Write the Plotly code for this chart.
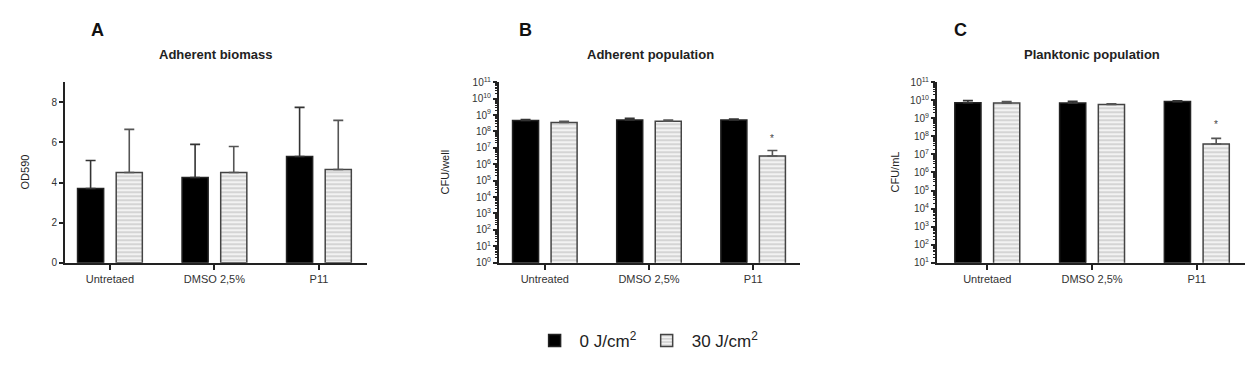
import numpy as np
import plotly.graph_objects as go
from plotly.subplots import make_subplots

# ---- data ----
cats_A = ["Untretaed", "DMSO 2,5%", "P11"]
cats_B = ["Untreated", "DMSO 2,5%", "P11"]
cats_C = ["Untretaed", "DMSO 2,5%", "P11"]
series_names = ["0 J/cm<sup>2</sup>", "30 J/cm<sup>2</sup>"]

A_0J = [3.7, 4.25, 5.3]
A_0J_err = [1.4, 1.65, 2.45]
A_30J = [4.5, 4.5, 4.65]
A_30J_err = [2.15, 1.3, 2.45]

B_0J = [4.7e8, 5.0e8, 5.0e8]
B_0J_err = [0.6e8, 1.3e8, 0.8e8]
B_30J = [3.5e8, 4.2e8, 3.2e6]
B_30J_err = [0.7e8, 0.8e8, 3.8e6]

C_0J = [7.3e9, 7.0e9, 8.5e9]
C_0J_err = [2.3e9, 1.8e9, 1.0e9]
C_30J = [7.0e9, 5.9e9, 3.8e7]
C_30J_err = [1.6e9, 0.5e9, 4.0e7]

sig_B = [False, False, True]
sig_C = [False, False, True]

B_ticks = list(range(0, 12))
C_ticks = list(range(1, 12))
A_ticks = [0, 2, 4, 6, 8]

FONT = "Liberation Sans, Arial, sans-serif"
W, H = 1258, 371

fig = make_subplots(rows=1, cols=3)

outline = "#222222"
bar_w = 0.25

def add_pair(col, cats, v0, e0, v1, e1, show):
    fig.add_trace(go.Bar(
        x=cats, y=v0, name=series_names[0], showlegend=show, legendgroup="a",
        width=bar_w, offset=-0.31,
        marker=dict(color="#000000", line=dict(color=outline, width=1.5)),
        error_y=dict(type="data", symmetric=False, array=e0, arrayminus=[0]*len(e0),
                     color="#333333", thickness=1.6, width=5),
    ), row=1, col=col)
    fig.add_trace(go.Bar(
        x=cats, y=v1, name=series_names[1], showlegend=show, legendgroup="b",
        width=bar_w, offset=0.06,
        marker=dict(color="#ffffff", line=dict(color="#444444", width=1.5),
                    pattern=dict(shape="-", fgcolor="#b0b0b0", bgcolor="#f2f2f2",
                                 size=4, solidity=0.45)),
        error_y=dict(type="data", symmetric=False, array=e1, arrayminus=[0]*len(e1),
                     color="#555555", thickness=1.6, width=5),
    ), row=1, col=col)

add_pair(1, cats_A, A_0J, A_0J_err, A_30J, A_30J_err, True)
add_pair(2, cats_B, B_0J, B_0J_err, B_30J, B_30J_err, False)
add_pair(3, cats_C, C_0J, C_0J_err, C_30J, C_30J_err, False)

# significance stars
for col, cats, v, e, sig in [(2, cats_B, B_30J, B_30J_err, sig_B), (3, cats_C, C_30J, C_30J_err, sig_C)]:
    for i, s in enumerate(sig):
        if s:
            fig.add_annotation(x=i + 0.185, y=np.log10(v[i] + e[i]) + 0.75, xref=f"x{col}", yref=f"y{col}",
                               text="*", showarrow=False, xanchor="center",
                               font=dict(size=10, color="#444444", family=FONT))

ytop, ybot = 1 - 78 / H, 1 - 265 / H
doms = [(65 / W, 367 / W), (499 / W, 800 / W), (937 / W, 1245 / W)]
xranges = [[-0.43, 2.46], [-0.44, 2.45], [-0.48, 2.46]]

axis_common = dict(showline=True, linecolor="#222222", linewidth=2, showgrid=False, zeroline=False,
                   tickfont=dict(family=FONT, size=10, color="#333"))

for i in range(3):
    xa = "xaxis" if i == 0 else f"xaxis{i+1}"
    ya = "yaxis" if i == 0 else f"yaxis{i+1}"
    fig.layout[xa].update(domain=list(doms[i]), range=xranges[i], ticks="outside", ticklen=5,
                          tickwidth=1.5, tickcolor="#222", **axis_common)
    fig.layout[xa].tickfont.size = 11
    fig.layout[ya].update(domain=[ybot, ytop], ticks="outside", ticklen=4, tickwidth=1.5,
                          tickcolor="#222", **axis_common)

def minor_vals(lo, hi):
    return [m * 10 ** k for k in range(lo, hi) for m in range(2, 10)]

fig.update_layout(
    yaxis=dict(range=[0, 9], tickvals=A_ticks, ticktext=[str(t) for t in A_ticks]),
    yaxis2=dict(type="log", range=[0, 11], tickvals=[10 ** t for t in B_ticks],
                ticktext=[f"10<sup>{t}</sup>" for t in B_ticks],
                minor=dict(ticks="outside", ticklen=2, tickwidth=1, tickcolor="#222", showgrid=False,
                           tickvals=minor_vals(0, 11))),
    yaxis3=dict(type="log", range=[1, 11], tickvals=[10 ** t for t in C_ticks],
                ticktext=[f"10<sup>{t}</sup>" for t in C_ticks],
                minor=dict(ticks="outside", ticklen=2, tickwidth=1, tickcolor="#222", showgrid=False,
                           tickvals=minor_vals(1, 11))),
)

# axis titles
ytitles = ["OD590", "CFU/well", "CFU/mL"]
ytitle_x = [25, 445, 895]
for t, xp in zip(ytitles, ytitle_x):
    fig.add_annotation(x=xp / W, y=(ytop + ybot) / 2, xref="paper", yref="paper", text=t,
                       textangle=-90, showarrow=False, xanchor="center", yanchor="middle",
                       font=dict(family=FONT, size=11, color="#222"))

# panel letters and titles
letters = [("A", 97), ("B", 525), ("C", 960)]
for t, xp in letters:
    fig.add_annotation(x=xp / W, y=1 - 24 / H, xref="paper", yref="paper", text=f"<b>{t}</b>",
                       showarrow=False, xanchor="center", yanchor="middle",
                       font=dict(family=FONT, size=18, color="#111"))
titles = [("Adherent biomass", 215), ("Adherent population", 650), ("Planktonic population", 1092)]
for t, xp in titles:
    fig.add_annotation(x=xp / W, y=1 - 49 / H, xref="paper", yref="paper", text=f"<b>{t}</b>",
                       showarrow=False, xanchor="center", yanchor="middle",
                       font=dict(family=FONT, size=13, color="#222"))

fig.update_layout(
    width=W, height=H, margin=dict(l=0, r=0, t=0, b=0),
    paper_bgcolor="white", plot_bgcolor="white",
    barmode="overlay",
    legend=dict(orientation="h", x=0.514, xanchor="center", y=1 - 346 / H, yanchor="middle",
                font=dict(family=FONT, size=17, color="#222"), itemwidth=40,
                traceorder="normal"),
)

fig.write_html("out.html", config={"displayModeBar": False},
               post_script="document.body.style.margin='0px';document.body.style.overflow='hidden';")
